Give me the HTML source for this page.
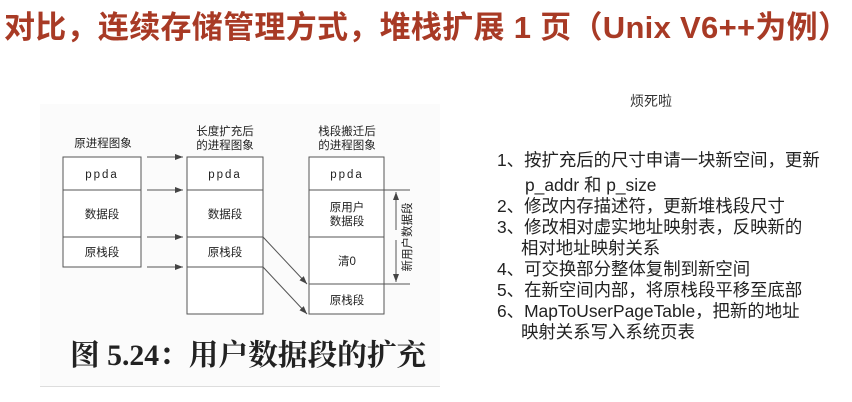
<!DOCTYPE html>
<html><head><meta charset="utf-8"><style>
body{margin:0;width:852px;height:402px;background:#fff;overflow:hidden;position:relative;font-family:"Liberation Sans","Noto Sans CJK SC",sans-serif}
.t{position:absolute;left:4px;top:2px;font-size:31px;font-weight:bold;color:#a83a25;white-space:nowrap;letter-spacing:0.3px}
.l{position:absolute;left:497px;font-size:17.4px;color:#222;white-space:nowrap}
</style></head><body>
<div class="t">对比，连续存储管理方式，堆栈扩展 1 页（Unix V6++为例）</div>
<div style="position:absolute;left:40px;top:104px;width:400px;height:282px;background:#fbfbfb;border-bottom:1px solid #ddd"></div>
<svg style="position:absolute;left:0;top:0" width="852" height="402">
<defs><marker id="a" markerWidth="8" markerHeight="6" refX="8" refY="3" orient="auto" markerUnits="userSpaceOnUse"><path d="M0,0L8,3L0,6z" fill="#444"/></marker></defs>
<g fill="#fff" stroke="#555" stroke-width="1">
<rect x="63" y="157" width="78" height="110"/><rect x="187" y="157" width="76" height="157"/><rect x="309" y="157" width="75" height="157"/>
</g>
<g stroke="#555" stroke-width="1">
<line x1="63" y1="190" x2="141" y2="190"/><line x1="63" y1="237" x2="141" y2="237"/>
<line x1="187" y1="190" x2="263" y2="190"/><line x1="187" y1="237" x2="263" y2="237"/><line x1="187" y1="267" x2="263" y2="267"/>
<line x1="309" y1="190" x2="410" y2="190"/><line x1="309" y1="237" x2="384" y2="237"/><line x1="309" y1="284" x2="410" y2="284"/>
<g marker-end="url(#a)"><line x1="147" y1="157" x2="183" y2="157"/><line x1="147" y1="190" x2="183" y2="190"/><line x1="147" y1="237" x2="183" y2="237"/><line x1="147" y1="267" x2="183" y2="267"/>
<line x1="263" y1="237" x2="307" y2="284"/><line x1="263" y1="267" x2="307" y2="314"/>
<line x1="396" y1="230" x2="396" y2="192"/><line x1="396" y1="240" x2="396" y2="282"/></g>
</g>
<g font-size="11.5" fill="#222" text-anchor="middle" font-family="Liberation Sans,Noto Sans CJK SC,sans-serif">
<text x="103" y="147">原进程图象</text>
<text x="225" y="135">长度扩充后</text><text x="225" y="149">的进程图象</text>
<text x="347" y="135">栈段搬迁后</text><text x="347" y="149">的进程图象</text>
<text x="102" y="178" letter-spacing="2">ppda</text><text x="225" y="178" letter-spacing="2">ppda</text><text x="347" y="178" letter-spacing="2">ppda</text>
<text x="102" y="218">数据段</text><text x="225" y="218">数据段</text><text x="102" y="256">原栈段</text><text x="225" y="256">原栈段</text>
<text x="347" y="211">原用户</text><text x="347" y="225">数据段</text><text x="347" y="265">清0</text><text x="347" y="304">原栈段</text>
<text transform="translate(407,237) rotate(-90)" dy="4">新用户数据段</text>
</g>
<text x="70" y="365" font-family="Liberation Serif,Noto Serif CJK SC,serif" font-weight="bold" font-size="29.7" fill="#222">图 5.24：用户数据段的扩充</text>
</svg>
<div style="position:absolute;left:630px;top:91px;font-size:14px;color:#333">烦死啦</div>
<div class="l" style="top:147px">1、按扩充后的尺寸申请一块新空间，更新</div>
<div class="l" style="top:172px;left:525px">p_addr 和 p_size</div>
<div class="l" style="top:193px">2、修改内存描述符，更新堆栈段尺寸</div>
<div class="l" style="top:214px">3、修改相对虚实地址映射表，反映新的</div>
<div class="l" style="top:235px;left:521px">相对地址映射关系</div>
<div class="l" style="top:256px">4、可交换部分整体复制到新空间</div>
<div class="l" style="top:277px">5、在新空间内部，将原栈段平移至底部</div>
<div class="l" style="top:298px">6、MapToUserPageTable，把新的地址</div>
<div class="l" style="top:319px;left:521px">映射关系写入系统页表</div>
</body></html>
